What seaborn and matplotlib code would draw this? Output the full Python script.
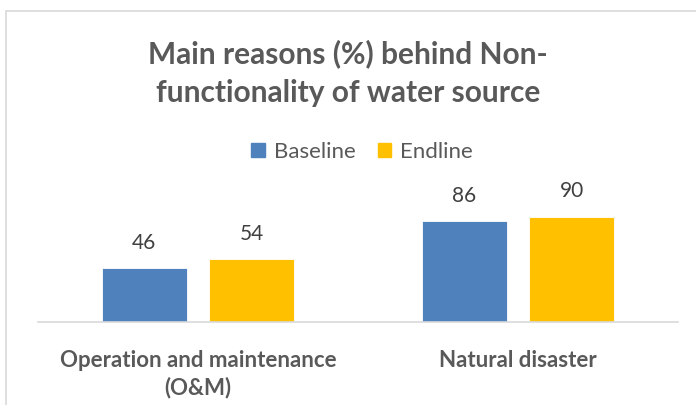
import matplotlib
matplotlib.use("Agg")
import matplotlib.pyplot as plt
import seaborn as sns
import pandas as pd
from matplotlib.patches import Rectangle

categories = ["Operation and maintenance\n(O&M)", "Natural disaster"]
series_names = ["Baseline", "Endline"]
baseline = [46, 86]
endline = [54, 90]
title = "Main reasons (%) behind Non-\nfunctionality of water source"

colors = {"Baseline": "#4F81BD", "Endline": "#FFC000"}
text_gray = "#595959"

df = pd.DataFrame({
    "category": categories * 2,
    "series": [series_names[0]] * len(categories) + [series_names[1]] * len(categories),
    "value": baseline + endline,
})

sns.set_theme(style="white")
plt.rcParams["font.family"] = ["Lato", "DejaVu Sans"]

fig = plt.figure(figsize=(6.96, 4.05), dpi=100)
W, H = 696, 405
ax = fig.add_axes([38 / W, 1 - 322 / H, (678 - 38) / W, (322 - 205) / H])

sns.barplot(data=df, x="category", y="value", hue="series", palette=colors,
            ax=ax, width=0.67, gap=0.2, saturation=1, legend=False,
            edgecolor="white", linewidth=0.6)

ax.set_ylim(0, 100)
ax.set_xlim(-0.5, 1.5)
ax.set_xlabel("")
ax.set_ylabel("")
ax.set_yticks([])
for s in ["left", "right", "top"]:
    ax.spines[s].set_visible(False)
ax.spines["bottom"].set_color("#D9D9D9")
ax.spines["bottom"].set_linewidth(1.2)
ax.tick_params(axis="x", length=0, pad=20)
for lbl in ax.get_xticklabels():
    lbl.set_fontsize(16)
    lbl.set_fontweight("bold")
    lbl.set_color(text_gray)
    lbl.set_linespacing(1.35)

for cont in ax.containers:
    ax.bar_label(cont, fmt="%d", padding=11, fontsize=15, color="#404040")

ax.patch.set_alpha(0)

# chart frame
fig.patches.append(Rectangle((6 / W, -0.05), 1.0, 1 - 11 / H + 0.05,
                             transform=fig.transFigure, fill=False,
                             edgecolor="#D9D9D9", linewidth=1.2, zorder=0))

fig.text(0.5, 1 - 73 / H, title, ha="center", va="center", fontsize=21.5,
         fontweight="bold", color=text_gray, linespacing=1.5)

handles = [Rectangle((0, 0), 1, 1, color=colors[n]) for n in series_names]
fig.legend(handles, series_names, loc="center", bbox_to_anchor=(362 / W, 1 - 152 / H),
           ncol=2, frameon=False, fontsize=16, handlelength=0.6, handleheight=0.6,
           handletextpad=0.4, columnspacing=1.0, labelcolor=text_gray)

fig.savefig("out.png", dpi=100)
